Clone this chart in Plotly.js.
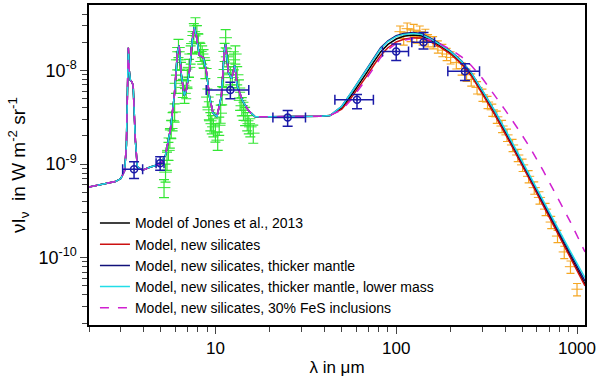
<!DOCTYPE html>
<html>
<head>
<title>Dust SED</title>
<script src="https://cdn.plot.ly/plotly-3.0.1.min.js"></script>
<style>
	body {
		margin: 0;
		background-color: white;
	}
</style>
</head>
<body>
<div id="sed_graph"></div>
<script>
	// model curves: shared near/mid-IR part (all models overlap there)
	var lamNear = [2.0, 2.5, 2.8, 3.0, 3.15, 3.22, 3.27, 3.3, 3.34, 3.39, 3.45, 3.51, 3.57, 3.61, 3.7, 3.95, 4.37, 4.97, 5.3, 5.63, 5.93, 6.17, 6.3, 6.49, 6.73, 6.9, 7.2, 7.45, 7.65, 7.85, 8.15, 8.58, 8.9, 9.26, 9.7, 10.2, 10.8, 11.2, 11.4, 11.8, 12.3, 12.8, 13.2, 14.1, 15.2, 16.6, 20, 30, 38];
	var nuINear = [5.7e-10, 6.2e-10, 6.5e-10, 7.0e-10, 8.5e-10, 1.6e-9, 6e-9, 1.75e-8, 1.0e-8, 7.8e-9, 7.6e-9, 6.9e-9, 3.0e-9, 1.8e-9, 9.3e-10, 8.6e-10, 9.3e-10, 1.0e-9, 1.25e-9, 2.3e-9, 5.4e-9, 1.6e-8, 1.85e-8, 8.8e-9, 5.4e-9, 6.1e-9, 1.0e-8, 2.1e-8, 2.9e-8, 2.35e-8, 1.45e-8, 1.37e-8, 1.0e-8, 5.4e-9, 3.5e-9, 3.2e-9, 5.4e-9, 1.6e-8, 1.9e-8, 9.5e-9, 8.2e-9, 1.13e-8, 6.9e-9, 4.8e-9, 3.75e-9, 3.2e-9, 3.2e-9, 3.2e-9, 3.25e-9];

	// far-IR part, one array per model
	var lamFar = [43, 50, 56, 62, 68, 75, 82, 90, 100, 110, 124, 138, 154, 175, 200, 230, 260, 300, 350, 400, 470, 550, 650, 780, 920, 1107];
	var jones2013 = [3.3e-9, 3.95e-9, 5.3e-9, 7.0e-9, 9.2e-9, 1.23e-8, 1.58e-8, 1.9e-8, 2.17e-8, 2.32e-8, 2.4e-8, 2.35e-8, 2.12e-8, 1.83e-8, 1.53e-8, 1.19e-8, 9.0e-9, 5.75e-9, 3.5e-9, 2.2e-9, 1.21e-9, 7.0e-10, 3.75e-10, 1.9e-10, 1.0e-10, 5.2e-11];
	var newSil = [3.3e-9, 3.85e-9, 5.0e-9, 6.5e-9, 8.5e-9, 1.13e-8, 1.45e-8, 1.75e-8, 2.02e-8, 2.16e-8, 2.24e-8, 2.22e-8, 2.04e-8, 1.78e-8, 1.5e-8, 1.17e-8, 8.8e-9, 5.6e-9, 3.4e-9, 2.12e-9, 1.16e-9, 6.7e-10, 3.6e-10, 1.82e-10, 9.6e-11, 5.0e-11];
	var thickMantle = [3.3e-9, 4.15e-9, 5.7e-9, 7.7e-9, 1.02e-8, 1.37e-8, 1.75e-8, 2.08e-8, 2.36e-8, 2.48e-8, 2.54e-8, 2.47e-8, 2.23e-8, 1.92e-8, 1.61e-8, 1.26e-8, 9.5e-9, 6.05e-9, 3.7e-9, 2.3e-9, 1.27e-9, 7.3e-10, 3.95e-10, 2.02e-10, 1.08e-10, 5.6e-11];
	var lowerMass = [3.3e-9, 4.14e-9, 5.7e-9, 7.6e-9, 1.0e-8, 1.34e-8, 1.71e-8, 2.04e-8, 2.3e-8, 2.42e-8, 2.48e-8, 2.42e-8, 2.19e-8, 1.89e-8, 1.59e-8, 1.25e-8, 9.5e-9, 6.1e-9, 3.75e-9, 2.36e-9, 1.31e-9, 7.6e-10, 4.14e-10, 2.14e-10, 1.16e-10, 6.1e-11];
	var fesIncl = [3.3e-9, 3.8e-9, 4.8e-9, 6.2e-9, 8.0e-9, 1.06e-8, 1.37e-8, 1.67e-8, 1.95e-8, 2.1e-8, 2.2e-8, 2.22e-8, 2.12e-8, 1.92e-8, 1.68e-8, 1.4e-8, 1.13e-8, 8.2e-9, 5.5e-9, 3.8e-9, 2.4e-9, 1.5e-9, 8.5e-10, 4.4e-10, 2.4e-10, 1.15e-10];

	// mid-IR spectrum (green)
	var lamSpec = [5.2, 5.3, 5.4, 5.5, 5.6, 5.7, 5.8, 5.95, 6.05, 6.15, 6.25, 6.35, 6.45, 6.6, 6.75, 6.9, 7.0, 7.15, 7.3, 7.46, 7.6, 7.76, 7.9, 8.05, 8.26, 8.45, 8.6, 8.8, 9.03, 9.2, 9.38, 9.55, 9.75, 10.0, 10.3, 10.5, 10.7, 10.9, 11.1, 11.25, 11.4, 11.6, 11.8, 12.1, 12.4, 12.65, 12.9, 13.2, 13.5, 13.7, 14.0, 14.3, 14.6, 15.0, 15.3, 15.6, 16.2];
	var nuISpec = [5.6e-10, 8.2e-10, 1.1e-9, 1.4e-9, 1.9e-9, 2.4e-9, 2.9e-9, 3.6e-9, 7.3e-9, 1.3e-8, 1.76e-8, 1.3e-8, 1.0e-8, 6.6e-9, 5.7e-9, 6.4e-9, 8.5e-9, 1.08e-8, 1.5e-8, 1.94e-8, 2.6e-8, 3.0e-8, 2.48e-8, 2.0e-8, 1.6e-8, 1.5e-8, 1.37e-8, 1.05e-8, 5.2e-9, 3.8e-9, 2.9e-9, 2.7e-9, 2.5e-9, 2.2e-9, 1.8e-9, 2.6e-9, 3.5e-9, 5.5e-9, 8.4e-9, 1.6e-8, 2.24e-8, 1.4e-8, 1.2e-8, 9.0e-9, 8.4e-9, 1.3e-8, 1.5e-8, 9.0e-9, 6.5e-9, 4.8e-9, 4.2e-9, 3.75e-9, 3.3e-9, 2.9e-9, 2.7e-9, 2.5e-9, 2.14e-9];

	// far-IR / submm spectrum (orange)
	var lamFir = [105, 110, 115, 120, 125, 130, 135, 140, 145, 150, 160, 170, 180, 190, 200, 215, 230, 245, 260, 280, 300, 320, 340, 360, 385, 410, 440, 470, 500, 540, 580, 620, 670, 720, 780, 850, 920, 1000];
	var nuIFir = [2.6e-8, 2.2e-8, 2.8e-8, 2.4e-8, 2.7e-8, 2.3e-8, 2.6e-8, 2.2e-8, 2.4e-8, 2.1e-8, 2.0e-8, 1.8e-8, 1.65e-8, 1.5e-8, 1.38e-8, 1.22e-8, 1.05e-8, 9.0e-9, 8.0e-9, 6.6e-9, 5.5e-9, 4.6e-9, 3.8e-9, 3.2e-9, 2.55e-9, 2.05e-9, 1.6e-9, 1.25e-9, 9.8e-10, 7.4e-10, 5.6e-10, 4.4e-10, 3.3e-10, 2.4e-10, 1.7e-10, 1.15e-10, 8.0e-11, 4.6e-11];

	// photometry (blue)
	var lamPhot = [3.55, 4.95, 12.1, 25.1, 60.7, 100, 141.6, 240];
	var nuIPhot = [8.8e-10, 1.02e-9, 6.2e-9, 3.14e-9, 4.88e-9, 1.6e-8, 2.0e-8, 9.8e-9];
	var lamErrLo = [0.48, 0.25, 3.2, 4.3, 14.9, 16, 19.6, 47];
	var lamErrHi = [0.41, 0.25, 3.2, 6.4, 14.1, 17, 21.4, 49];
	var nuIErrLo = [1.8e-10, 1.6e-10, 1.2e-9, 6e-10, 9.8e-10, 3.2e-9, 3e-9, 2e-9];
	var nuIErrHi = [1.8e-10, 1.8e-10, 1.3e-9, 6e-10, 6.7e-10, 3.2e-9, 5.5e-9, 2e-9];

	var xMinor = [2, 3, 4, 5, 6, 7, 8, 9, 20, 30, 40, 50, 60, 70, 80, 90, 200, 300, 400, 500, 600, 700, 800, 900];
	var yMinor = [2e-11, 3e-11, 4e-11, 5e-11, 6e-11, 7e-11, 8e-11, 9e-11, 2e-10, 3e-10, 4e-10, 5e-10, 6e-10, 7e-10, 8e-10, 9e-10, 2e-9, 3e-9, 4e-9, 5e-9, 6e-9, 7e-9, 8e-9, 9e-9, 2e-8, 3e-8, 4e-8];

	var lamModel = lamNear.concat(lamFar);

	function model(name, far, color, dash) {
	  return {
	    x: lamModel,
	    y: nuINear.concat(far),
	    type: 'scatter',
	    mode: 'lines',
	    name: name,
	    line: {color: color, width: 1.5, dash: dash}
	  };
	}

	var spec = {
	  x: lamSpec,
	  y: nuISpec,
	  type: 'scatter',
	  mode: 'markers',
	  showlegend: false,
	  marker: {symbol: 'line-ew-open', size: 9, color: '#33e633', line: {color: '#33e633', width: 1}},
	  error_y: {type: 'percent', value: 22, color: '#33e633', thickness: 1.2, width: 5}
	};

	var fir = {
	  x: lamFir,
	  y: nuIFir,
	  type: 'scatter',
	  mode: 'markers',
	  showlegend: false,
	  marker: {symbol: 'line-ew-open', size: 8, color: '#f5a623', line: {color: '#f5a623', width: 1}},
	  error_y: {type: 'percent', value: 15, color: '#f5a623', thickness: 1.2, width: 4}
	};

	var phot = {
	  x: lamPhot,
	  y: nuIPhot,
	  type: 'scatter',
	  mode: 'markers',
	  showlegend: false,
	  marker: {symbol: 'circle-open-dot', size: 7, color: '#1a1aa8', line: {width: 1.5}},
	  error_x: {type: 'data', symmetric: false, array: lamErrHi, arrayminus: lamErrLo, color: '#1a1aa8', thickness: 1.5, width: 5},
	  error_y: {type: 'data', symmetric: false, array: nuIErrHi, arrayminus: nuIErrLo, color: '#1a1aa8', thickness: 1.5, width: 5}
	};

	var traces = [
	  spec, fir,
	  model('Model of Jones et al., 2013', jones2013, 'black', 'solid'),
	  model('Model, new silicates', newSil, '#cc1010', 'solid'),
	  model('Model, new silicates, thicker mantle', thickMantle, '#10107a', 'solid'),
	  model('Model, new silicates, thicker mantle, lower mass', lowerMass, '#22dde8', 'solid'),
	  model('Model, new silicates, 30% FeS inclusions', fesIncl, '#d020d0', 'dash'),
	  phot
	];

	var layout = {
	  width: 600,
	  height: 382,
	  margin: {l: 89, r: 15, t: 5, b: 57},
	  paper_bgcolor: 'white',
	  plot_bgcolor: 'white',
	  font: {family: 'Liberation Sans, Arial, sans-serif', color: 'black', size: 14},
	  showlegend: true,
	  legend: {
	    x: 0.012, y: 0.005, xanchor: 'left', yanchor: 'bottom',
	    bgcolor: 'rgba(0,0,0,0)',
	    font: {size: 14},
	    tracegroupgap: 0
	  },
	  xaxis: {
	    type: 'log',
	    range: [Math.log10(2), Math.log10(1107)],
	    tickvals: [10, 100, 1000],
	    ticktext: ['10', '100', '1000'],
	    ticks: 'outside', ticklen: 7, tickwidth: 1.2,
	    minor: {tickvals: xMinor, ticks: 'outside', ticklen: 5, tickwidth: 1},
	    showgrid: false, zeroline: false,
	    showline: true, linecolor: 'black', linewidth: 1.5, mirror: true,
	    tickfont: {size: 17},
	    title: {text: 'λ in μm', font: {size: 17}, standoff: 4}
	  },
	  yaxis: {
	    type: 'log',
	    range: [-10.72, -7.3],
	    tickvals: [1e-10, 1e-9, 1e-8],
	    ticktext: ['10<sup>-10</sup>', '10<sup>-9</sup>', '10<sup>-8</sup>'],
	    ticks: 'outside', ticklen: 7, tickwidth: 1.2,
	    minor: {tickvals: yMinor, ticks: 'outside', ticklen: 5, tickwidth: 1},
	    showgrid: false, zeroline: false,
	    showline: true, linecolor: 'black', linewidth: 1.5, mirror: true,
	    tickfont: {size: 18},
	    title: {text: 'νI<sub>ν</sub>  in W m<sup>-2</sup> sr<sup>-1</sup>', font: {size: 19}, standoff: 8}
	  }
	};

	Plotly.newPlot('sed_graph', traces, layout, {displayModeBar: false});
</script>
</body>
</html>
